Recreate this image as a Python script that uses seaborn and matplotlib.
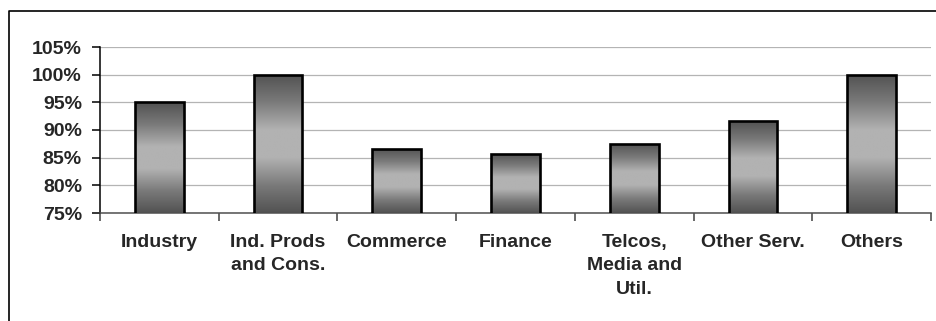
import numpy as np
import pandas as pd
import matplotlib
matplotlib.use("Agg")
import matplotlib.pyplot as plt
from matplotlib.lines import Line2D
from matplotlib.colors import LinearSegmentedColormap
from matplotlib.ticker import FuncFormatter, FixedLocator
import seaborn as sns

# Share of each sector (percent)
sectors = ["Industry", "Ind. Prods\nand Cons.", "Commerce", "Finance",
           "Telcos,\nMedia and\nUtil.", "Other Serv.", "Others"]
shares = [95.0, 100.0, 86.6, 85.7, 87.5, 91.6, 100.0]
y_ticks = [75, 80, 85, 90, 95, 100, 105]

sns.set_style("white")
plt.rcParams["font.family"] = ["Liberation Sans", "DejaVu Sans"]
plt.rcParams["font.weight"] = "bold"

fig = plt.figure(figsize=(9.37, 3.21), dpi=100)
ax = fig.add_axes([100 / 937, 1 - 213 / 321, 831 / 937, 166 / 321])

df = pd.DataFrame({"sector": sectors, "share": shares})
sns.barplot(data=df, x="sector", y="share", ax=ax, width=0.41,
            color="#888888", edgecolor="black", linewidth=1.9,
            saturation=1, zorder=3)

ax.set_ylim(75, 105)
ax.set_xlim(-0.5, len(sectors) - 0.5)

# Metallic vertical gradient inside each bar
grad_cmap = LinearSegmentedColormap.from_list(
    "steel", ["#525252", "#7a7a7a", "#b2b2b2", "#b2b2b2", "#7a7a7a", "#525252"])
grad = np.linspace(0, 1, 256).reshape(-1, 1)
for patch in list(ax.patches):
    x0, y0 = patch.get_x(), 75
    w, top = patch.get_width(), patch.get_y() + patch.get_height()
    im = ax.imshow(grad, cmap=grad_cmap, aspect="auto", origin="lower",
                   extent=[x0, x0 + w, y0, top], zorder=2.5,
                   interpolation="bilinear")
    im.set_clip_path(patch)
    patch.set_facecolor("none")
ax.set_ylim(75, 105)
ax.set_xlim(-0.5, len(sectors) - 0.5)

# Gridlines
ax.yaxis.set_major_locator(FixedLocator(y_ticks))
ax.yaxis.set_major_formatter(FuncFormatter(lambda v, _: f"{v:.0f}%"))
ax.grid(axis="y", color="#b4b4b4", linewidth=0.9, zorder=0)
ax.grid(axis="x", visible=False)
ax.set_axisbelow(True)

for side in ["top", "right"]:
    ax.spines[side].set_visible(False)
ax.spines["left"].set_color("black")
ax.spines["left"].set_linewidth(1.1)
ax.spines["bottom"].set_color("#505050")
ax.spines["bottom"].set_linewidth(1.1)

ax.set_xlabel("")
ax.set_ylabel("")
ax.tick_params(axis="y", direction="out", length=6, width=1.1, color="black",
               labelsize=14, pad=7, left=True)
ax.tick_params(axis="x", which="major", length=0, labelsize=14, pad=15)
ax.set_xticks(np.arange(-0.5, len(sectors), 1.0), minor=True)
ax.tick_params(axis="x", which="minor", direction="out", length=6,
               width=1.1, color="#404040", bottom=True)
for lbl in ax.get_xticklabels():
    lbl.set_fontweight("bold")
    lbl.set_linespacing(1.5)
    lbl.set_verticalalignment("top")
for lbl in ax.get_yticklabels():
    lbl.set_fontweight("bold")

# Frame around the chart area
fx = 9.5 / 937
fy = 1 - 10.5 / 321
fig.add_artist(Line2D([fx, fx, 1.0], [0.0, fy, fy], transform=fig.transFigure,
                      color="black", linewidth=1.2))

fig.savefig("out.png", dpi=100)
